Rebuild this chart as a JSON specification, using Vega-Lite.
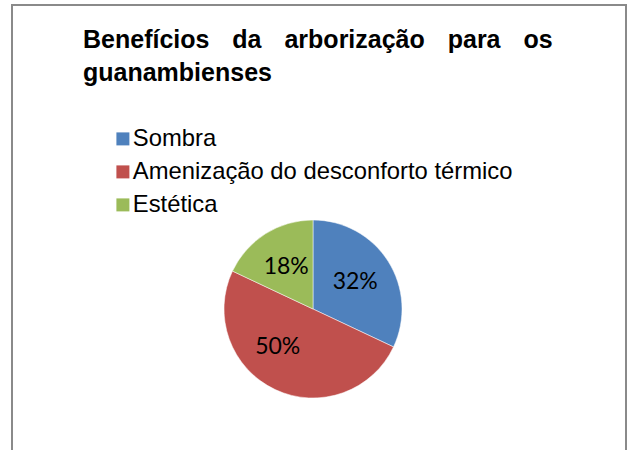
{
  "$schema": "https://vega.github.io/schema/vega-lite/v6.json",
  "autosize": "none",
  "width": 614,
  "height": 446,
  "padding": {"left": 12, "top": 5, "right": 6, "bottom": 0},
  "background": "white",
  "view": {"stroke": "#8a8a8a", "strokeWidth": 2},
  "title": {
    "text": ["Benefícios\u00a0\u00a0\u200a\u00a0da\u00a0\u00a0\u200a\u00a0arborização\u00a0\u00a0\u200a\u00a0para\u00a0\u00a0\u200a\u00a0os", "guanambienses"],
    "anchor": "start",
    "frame": "group",
    "orient": "top",
    "font": "Liberation Sans",
    "fontSize": 25,
    "fontWeight": "bold",
    "color": "#000000",
    "lineHeight": 33,
    "baseline": "alphabetic",
    "offset": 0,
    "dx": 71,
    "dy": 101
  },
  "data": {
    "values": [
      {"categoria": "Sombra", "valor": 32, "ordem": 1, "rotulo": "32%"},
      {"categoria": "Amenização do desconforto térmico", "valor": 50, "ordem": 2, "rotulo": "50%"},
      {"categoria": "Estética", "valor": 18, "ordem": 3, "rotulo": "18%"}
    ]
  },
  "encoding": {
    "theta": {"field": "valor", "type": "quantitative", "stack": true},
    "order": {"field": "ordem", "type": "quantitative"}
  },
  "layer": [
    {
      "mark": {"type": "arc", "outerRadius": 89, "x": 301, "y": 304, "stroke": "white", "strokeWidth": 0.5},
      "encoding": {
        "color": {
          "field": "categoria",
          "type": "nominal",
          "sort": ["Sombra", "Amenização do desconforto térmico", "Estética"],
          "scale": {
            "domain": ["Sombra", "Amenização do desconforto térmico", "Estética"],
            "range": ["#4F81BD", "#C0504D", "#9BBB59"]
          },
          "legend": {
            "title": null,
            "orient": "none",
            "legendX": 99,
            "legendY": 122,
            "padding": 0,
            "symbolType": "square",
            "symbolSize": 169,
            "symbolStrokeWidth": 0,
            "labelFont": "Liberation Sans",
            "labelFontSize": 23.8,
            "labelColor": "#000000",
            "labelOffset": -2,
            "rowPadding": 8,
            "labelLimit": 500
          }
        }
      }
    },
    {
      "mark": {"type": "text", "radius": 50, "x": 301, "y": 304, "font": "Lato", "fontSize": 23, "color": "#000000", "align": "center", "baseline": "middle"},
      "encoding": {
        "text": {"field": "rotulo", "type": "nominal"},
        "opacity": {"condition": {"test": "datum.ordem === 2", "value": 0}, "value": 1}
      }
    },
    {
      "mark": {"type": "text", "radius": 50, "x": 301, "y": 304, "dx": -14, "dy": -7, "font": "Lato", "fontSize": 23, "color": "#000000", "align": "center", "baseline": "middle"},
      "encoding": {
        "text": {"field": "rotulo", "type": "nominal"},
        "opacity": {"condition": {"test": "datum.ordem === 2", "value": 1}, "value": 0}
      }
    }
  ]
}
